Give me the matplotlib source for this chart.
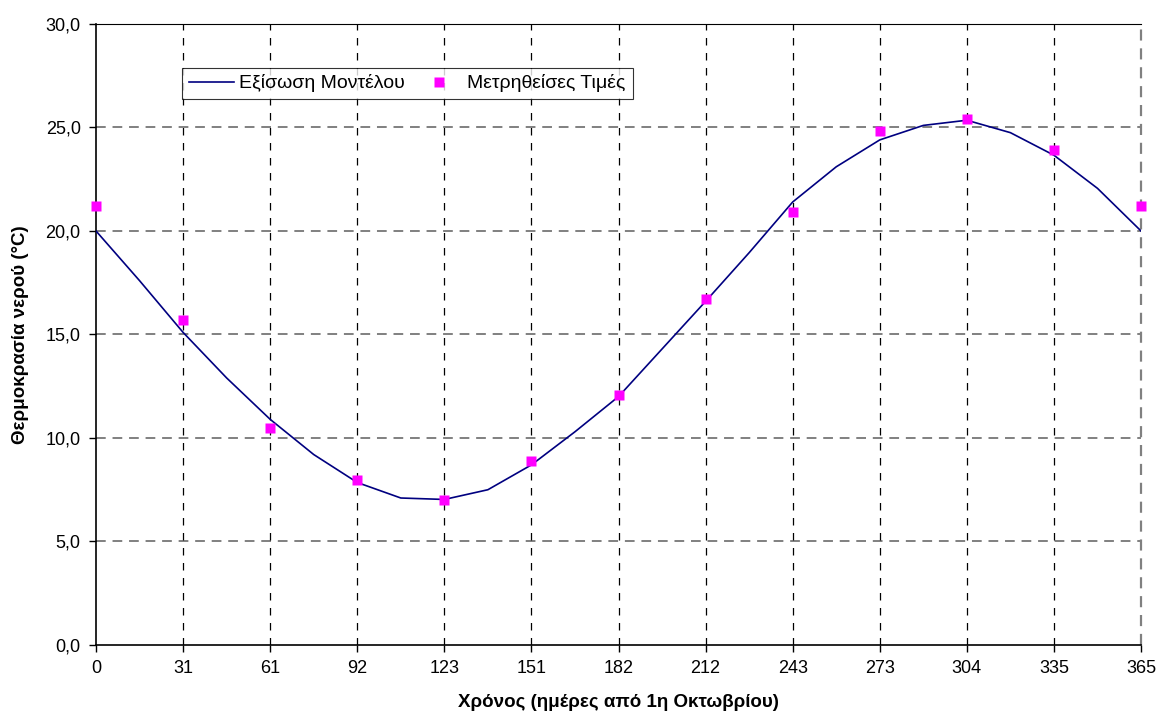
import numpy as np
import matplotlib.pyplot as plt

plt.rcParams['font.family'] = ['Liberation Sans', 'DejaVu Sans']

# Category labels (days from 1 October)
day_labels = ['0', '31', '61', '92', '123', '151', '182', '212', '243', '273', '304', '335', '365']

# Measured values, one per month
measured = [21.2, 15.7, 10.5, 7.95, 7.0, 8.9, 12.1, 16.7, 20.9, 24.85, 25.4, 23.9, 21.2]

# Model equation, read every half month
model = [20.0, 17.6, 15.1, 12.9, 10.9, 9.2, 7.85, 7.1, 7.03, 7.5, 8.7, 10.3, 12.0,
         14.3, 16.6, 18.95, 21.4, 23.1, 24.4, 25.1, 25.35, 24.75, 23.66, 22.06, 20.0]

x_meas = np.arange(len(measured))
x_model = np.arange(len(model)) / 2.0

fig = plt.figure(figsize=(11.68, 7.2), dpi=100)
ax = fig.add_axes([0.0822, 0.1042, 0.8947, 0.8625])

ax.plot(x_model, model, color='#000080', lw=1.2, label='Εξίσωση Μοντέλου', zorder=3)
ax.plot(x_meas, measured, 's', color='#FF00FF', ms=6.6, mec='none', label='Μετρηθείσες Τιμές',
        zorder=4, clip_on=False)

ax.set_xlim(0, 12)
ax.set_ylim(0, 30)
ax.set_xticks(x_meas)
ax.set_xticklabels(day_labels)
yt = np.arange(0, 31, 5)
ax.set_yticks(yt)
ax.set_yticklabels([('%.1f' % v).replace('.', ',') for v in yt])

# grid: horizontal gray, vertical black
for y in yt[1:-1]:
    ax.axhline(y, color='#808080', lw=1.4, ls=(0, (5, 3.5)), zorder=1)
for x in x_meas[1:-1]:
    ax.axvline(x, color='black', lw=0.9, ls=(0, (6, 6)), zorder=1)
ax.axvline(x_meas[-1], color='#808080', lw=1.6, ls=(0, (5, 3.5)), zorder=1, clip_on=False)

ax.spines['right'].set_visible(False)
ax.spines['top'].set_color('black')
ax.spines['left'].set_linewidth(1.2)
ax.spines['bottom'].set_linewidth(1.2)
ax.tick_params(axis='both', direction='out', length=5, width=1, labelsize=13, pad=6)

ax.set_xlabel('Χρόνος (ημέρες από 1η Οκτωβρίου)', fontsize=13.5, fontweight='bold', labelpad=12)
ax.set_ylabel('Θερμοκρασία νερού (°C)', fontsize=13.5, fontweight='bold', labelpad=12)

leg = ax.legend(loc='upper left', bbox_to_anchor=(0.0823, 0.9297), ncol=2, fontsize=14,
                frameon=True, fancybox=False, edgecolor='black', handlelength=2.3,
                columnspacing=0.6, borderpad=0.35, handletextpad=0.3, borderaxespad=0,
                markerscale=1.1)
leg.get_frame().set_linewidth(0.8)

fig.savefig('out.png', dpi=100)
